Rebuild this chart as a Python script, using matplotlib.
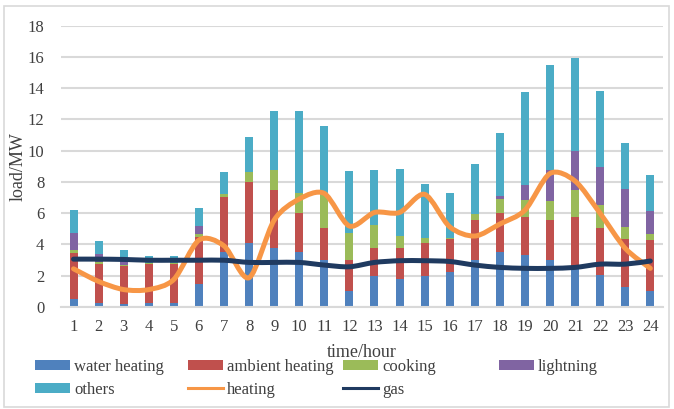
import numpy as np
import matplotlib
matplotlib.use("Agg")
import matplotlib.pyplot as plt
from matplotlib.path import Path
from matplotlib.patches import PathPatch, Rectangle, Patch
from matplotlib.lines import Line2D

# ---- data (MW per hour) ----
hours = list(range(1, 25))
water_heating = [0.52, 0.27, 0.15, 0.27, 0.27, 1.47, 3.48, 4.06, 3.76, 3.48, 3.00, 1.03,
                 2.00, 1.75, 2.00, 2.24, 2.99, 3.50, 3.31, 3.02, 2.60, 2.03, 1.28, 1.02]
ambient_heating = [2.95, 2.47, 2.46, 2.48, 2.47, 2.98, 3.52, 3.93, 3.74, 2.54, 2.03, 1.96,
                   1.76, 2.01, 2.06, 2.07, 2.54, 2.51, 2.46, 2.51, 3.17, 3.01, 3.03, 3.25]
cooking = [0.18, 0.14, 0.05, 0.07, 0.07, 0.21, 0.20, 0.66, 1.28, 1.28, 2.14, 1.75,
           1.45, 0.77, 0.34, 0.09, 0.43, 0.87, 1.06, 1.24, 1.73, 1.45, 0.77, 0.39]
lightning = [1.06, 0.52, 0.44, 0.0, 0.0, 0.49, 0.0, 0.0, 0.0, 0.0, 0.0, 0.0,
             0.0, 0.0, 0.0, 0.0, 0.0, 0.20, 0.97, 1.98, 2.47, 2.48, 2.48, 1.49]
others = [1.48, 0.82, 0.55, 0.43, 0.44, 1.16, 1.45, 2.24, 3.78, 5.26, 4.40, 3.93,
          3.52, 4.27, 3.48, 2.86, 3.20, 4.05, 5.98, 6.75, 5.98, 4.87, 2.94, 2.26]
heating = [2.43, 1.62, 1.10, 1.10, 1.75, 4.27, 3.90, 1.86, 5.55, 6.90, 7.26, 5.17,
           6.04, 6.04, 7.20, 5.12, 4.53, 5.30, 6.19, 8.54, 8.05, 5.98, 3.74, 2.46]
gas = [3.05, 3.05, 3.03, 2.98, 2.98, 2.98, 2.98, 2.84, 2.84, 2.84, 2.67, 2.56,
       2.84, 2.95, 2.95, 2.90, 2.67, 2.52, 2.46, 2.46, 2.52, 2.73, 2.73, 2.93]

stack_names = ["water heating", "ambient heating", "cooking", "lightning", "others"]
stack_values = [water_heating, ambient_heating, cooking, lightning, others]
stack_colors = ["#4F81BD", "#C0504D", "#9BBB59", "#8064A2", "#4BACC6"]
heating_color = "#F79646"
gas_color = "#1F3A60"
text_color = "#404040"
grid_color = "#D9D9D9"

plt.rcParams["font.family"] = ["Liberation Serif", "DejaVu Serif"]

fig = plt.figure(figsize=(6.74, 4.09), dpi=100)
ax = fig.add_axes([0.0905, 0.250, 0.893, 0.687])

x = np.array(hours, dtype=float)
bottom = np.zeros(len(hours))
for name, vals, col in zip(stack_names, stack_values, stack_colors):
    v = np.array(vals)
    ax.bar(x, v, width=0.32, bottom=bottom, color=col, linewidth=0, zorder=2)
    bottom += v


def smooth_path(xs, ys, k=7.0):
    """Cubic Bezier path through the points (Catmull-Rom style tangents)."""
    pts = np.column_stack([xs, ys])
    n = len(pts)
    verts = [pts[0]]
    codes = [Path.MOVETO]
    for i in range(n - 1):
        p0 = pts[i - 1] if i > 0 else pts[i]
        p1 = pts[i]
        p2 = pts[i + 1]
        p3 = pts[i + 2] if i + 2 < n else pts[i + 1]
        c1 = p1 + (p2 - p0) / k
        c2 = p2 - (p3 - p1) / k
        verts += [c1, c2, p2]
        codes += [Path.CURVE4] * 3
    return Path(verts, codes)


for vals, col in [(heating, heating_color), (gas, gas_color)]:
    patch = PathPatch(smooth_path(x, np.array(vals)), facecolor="none",
                      edgecolor=col, linewidth=3.6, capstyle="round",
                      joinstyle="round", zorder=3)
    ax.add_patch(patch)

ax.set_xlim(0.5, 24.5)
ax.set_ylim(0, 18)
ax.set_yticks(np.arange(0, 19, 2))
ax.set_xticks(x)
ax.set_xticklabels([str(h) for h in hours])
ax.grid(axis="y", color=grid_color, linewidth=1.5, zorder=0)
ax.set_axisbelow(True)
for s in ["top", "right", "left"]:
    ax.spines[s].set_visible(False)
ax.spines["bottom"].set_color(grid_color)
ax.spines["bottom"].set_linewidth(1.5)
ax.tick_params(axis="both", length=0, labelsize=12, colors=text_color)
ax.tick_params(axis="y", pad=12)
ax.tick_params(axis="x", pad=9)
ax.set_xlabel("time/hour", fontsize=13, color=text_color, labelpad=6)
ax.set_ylabel("load/MW", fontsize=13, color=text_color, labelpad=1)

# legend, laid out in four columns
bar_handles = [Patch(facecolor=c, edgecolor="none") for c in stack_colors]
line_handles = [Line2D([], [], color=heating_color, linewidth=2.2),
                Line2D([], [], color=gas_color, linewidth=2.2)]
columns = [
    ([bar_handles[0], bar_handles[4]], ["water heating", "others"], 35),
    ([bar_handles[1], line_handles[0]], ["ambient heating", "heating"], 188),
    ([bar_handles[2], line_handles[1]], ["cooking", "gas"], 343),
    ([bar_handles[3]], ["lightning"], 499),
]
W, H = 674.0, 409.0
for hs, labels, px in columns:
    leg = fig.legend(hs, labels, loc="upper left",
                     bbox_to_anchor=(px / W, 1 - 359 / H),
                     frameon=False, fontsize=12, handlelength=2.1,
                     handleheight=0.5, handletextpad=0.25, labelspacing=0.4,
                     borderpad=0, borderaxespad=0)
    for t in leg.get_texts():
        t.set_color(text_color)

# light outer frame around the chart
fig.add_artist(Rectangle((4 / W, 2 / H), 665 / W, 401 / H, transform=fig.transFigure,
                         fill=False, edgecolor=grid_color, linewidth=1.2))

fig.savefig("out.png", dpi=100)
